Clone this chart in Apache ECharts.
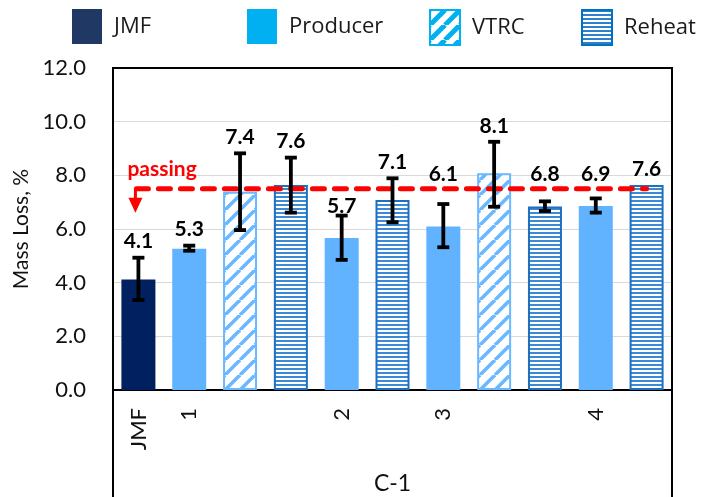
<!DOCTYPE html>
<html>
<head>
<meta charset="utf-8">
<script src="https://cdn.jsdelivr.net/npm/echarts@6/dist/echarts.min.js"></script>
<style>html,body{margin:0;padding:0;background:#fff}#c{width:705px;height:497px}</style>
</head>
<body>
<div id="c"></div>
<script>
// ---- data ----
const categories = ['JMF', '1', '', '', '2', '', '3', '', '', '4', ''];
const seriesNames = ['JMF', 'Producer', 'VTRC', 'Reheat'];
const barGroup = ['JMF', 'Producer', 'VTRC', 'Reheat', 'Producer', 'Reheat', 'Producer', 'VTRC', 'Reheat', 'Producer', 'Reheat'];
const massLoss = [4.12, 5.26, 7.39, 7.64, 5.66, 7.08, 6.09, 8.08, 6.84, 6.86, 7.64];
const errLow  = [3.35, 5.19, 5.96, 6.61, 4.85, 6.25, 5.32, 6.83, 6.67, 6.61, null];
const errHigh = [4.93, 5.38, 8.82, 8.66, 6.50, 7.89, 6.93, 9.25, 7.03, 7.14, null];
const passingLimit = 7.5;
const yTicks = [0, 2, 4, 6, 8, 10, 12];

// ---- patterns ----
function makePattern(w, h, draw) {
  const c = document.createElement('canvas');
  c.width = w; c.height = h;
  draw(c.getContext('2d'), w, h);
  return { image: c, repeat: 'repeat' };
}
function diagPattern(color, size, lw) {
  return makePattern(size, size, (ctx, w, h) => {
    ctx.fillStyle = '#ffffff'; ctx.fillRect(0, 0, w, h);
    ctx.strokeStyle = color; ctx.lineWidth = lw;
    [-size, 0, size].forEach(off => {
      ctx.beginPath(); ctx.moveTo(off, size); ctx.lineTo(off + size, 0); ctx.stroke();
    });
  });
}
function horizPattern(color, period, thick) {
  return makePattern(4, period, (ctx, w, h) => {
    ctx.fillStyle = '#ffffff'; ctx.fillRect(0, 0, w, h);
    ctx.fillStyle = color; ctx.fillRect(0, 0, w, thick);
  });
}

const barStyles = {
  JMF: { color: '#002060' },
  Producer: { color: '#61b3ff' },
  VTRC: { color: diagPattern('#6ab8ff', 15, 3.5), borderColor: '#6ab8ff', borderWidth: 2 },
  Reheat: { color: horizPattern('#3a8ad6', 4, 2), borderColor: '#1f6fbf', borderWidth: 2 }
};
const legendStyles = {
  JMF: { color: '#203864' },
  Producer: { color: '#00b0f0' },
  VTRC: { color: diagPattern('#00b0f0', 15, 5), borderColor: '#00b0f0', borderWidth: 2 },
  Reheat: { color: horizPattern('#2e7fcc', 4, 2), borderColor: '#0070c0', borderWidth: 2 }
};
const legendLeft = { JMF: 72, Producer: 247, VTRC: 429, Reheat: 581 };

const chart = echarts.init(document.getElementById('c'), null, { renderer: 'canvas' });

const legendBase = {
  top: 9, itemWidth: 30, itemHeight: 35, padding: 0, selectedMode: false, icon: 'rect',
  textStyle: { fontFamily: 'Open Sans', fontSize: 22, color: '#1a1a1a', padding: [0, 0, 0, 7] }
};

const option = {
  animation: false,
  backgroundColor: '#ffffff',
  grid: { left: 113, right: 33, top: 68, bottom: 107, containLabel: false, outerBoundsMode: 'none' },
  legend: seriesNames.map(n => Object.assign({}, legendBase, {
    left: legendLeft[n],
    data: [{ name: n, itemStyle: legendStyles[n] }]
  })),
  xAxis: {
    type: 'category',
    data: categories,
    axisLine: { show: true, lineStyle: { color: '#000', width: 2 } },
    axisTick: { show: false },
    axisLabel: { interval: 0, rotate: 90, margin: 18, fontFamily: 'Lato', fontSize: 22, color: '#111' },
    name: 'C-1',
    nameLocation: 'middle',
    nameGap: 82,
    nameTextStyle: { fontFamily: 'Lato', fontSize: 23, color: '#111' }
  },
  yAxis: {
    type: 'value',
    min: yTicks[0], max: yTicks[yTicks.length - 1], interval: 2,
    axisLine: { show: false },
    axisTick: { show: false },
    splitLine: { lineStyle: { color: '#d9d9d9', width: 1 } },
    axisLabel: { margin: 27, fontFamily: 'Lato', fontSize: 22, color: '#111', formatter: v => v.toFixed(1) },
    name: 'Mass Loss, %',
    nameLocation: 'middle',
    nameGap: 79,
    nameTextStyle: { fontFamily: 'Lato', fontSize: 21, color: '#111' }
  },
  graphic: [{
    type: 'polyline', z: 100,
    shape: { points: [[113, 505], [113, 68], [672, 68], [672, 505]] },
    style: { stroke: '#000', lineWidth: 2, fill: null }
  }],
  series: seriesNames.map(n => ({
    name: n, type: 'bar', barWidth: 34, barGap: '-100%',
    data: massLoss.map((v, i) => barGroup[i] === n ? v : '-'),
    itemStyle: barStyles[n]
  })).concat([
    {
      type: 'custom', name: 'passing', z: 5,
      data: [[0, categories.length - 1, passingLimit]],
      dimensions: ['x0', 'x1', 'y'],
      encode: { x: 0, y: 2 },
      renderItem: (params, api) => {
        const p0 = api.coord([api.value(0), api.value(2)]);
        const p1 = api.coord([api.value(1), api.value(2)]);
        const ax = p0[0] - 3, y = p0[1];
        return {
          type: 'group', children: [
            { type: 'line', shape: { x1: p0[0] - 2, y1: y, x2: p1[0], y2: y },
              style: { stroke: '#ff0000', lineWidth: 5, lineDash: [12, 10], lineCap: 'round' } },
            { type: 'line', shape: { x1: ax, y1: y, x2: ax, y2: y + 12 },
              style: { stroke: '#ff0000', lineWidth: 3 } },
            { type: 'polygon', shape: { points: [[ax - 7, y + 9], [ax + 7, y + 9], [ax, y + 24]] },
              style: { fill: '#ff0000' } },
            { type: 'text', style: { text: 'passing', x: p0[0] - 11, y: y - 20, align: 'left', verticalAlign: 'middle',
              font: 'bold 21px Lato', fill: '#ff0000' } }
          ]
        };
      }
    },
    {
      type: 'custom', name: 'error', z: 10,
      dimensions: ['x', 'lo', 'hi', 'v'],
      data: massLoss.map((v, i) => [i, errLow[i] == null ? '-' : errLow[i], errHigh[i] == null ? '-' : errHigh[i], v]),
      encode: { x: 0, y: 3 },
      renderItem: (params, api) => {
        const i = api.value(0), lo = api.value(1), hi = api.value(2), v = api.value(3);
        const pv = api.coord([i, v]);
        const lineY = api.coord([i, passingLimit])[1];
        const children = [];
        let topY = pv[1];
        if (!isNaN(lo) && !isNaN(hi)) {
          const pl = api.coord([i, lo]), ph = api.coord([i, hi]);
          const x = pv[0];
          topY = Math.min(topY, ph[1]);
          const st = { stroke: '#000', lineWidth: 3.8 };
          children.push({ type: 'line', shape: { x1: x, y1: pl[1], x2: x, y2: ph[1] }, style: st });
          children.push({ type: 'line', shape: { x1: x - 6, y1: pl[1], x2: x + 6, y2: pl[1] }, style: st });
          children.push({ type: 'line', shape: { x1: x - 6, y1: ph[1], x2: x + 6, y2: ph[1] }, style: st });
        }
        // keep the value label clear of the dashed passing line
        let ly = topY - 16;
        if (Math.abs(ly - lineY) < 14) ly = ly > lineY ? lineY + 17 : lineY - 15;
        children.push({ type: 'text', style: { text: v.toFixed(1), x: pv[0], y: ly, align: 'center', verticalAlign: 'middle',
          font: 'bold 21px Lato', fill: '#000' } });
        return { type: 'group', children };
      }
    }
  ])
};
chart.setOption(option);
</script>
</body>
</html>
